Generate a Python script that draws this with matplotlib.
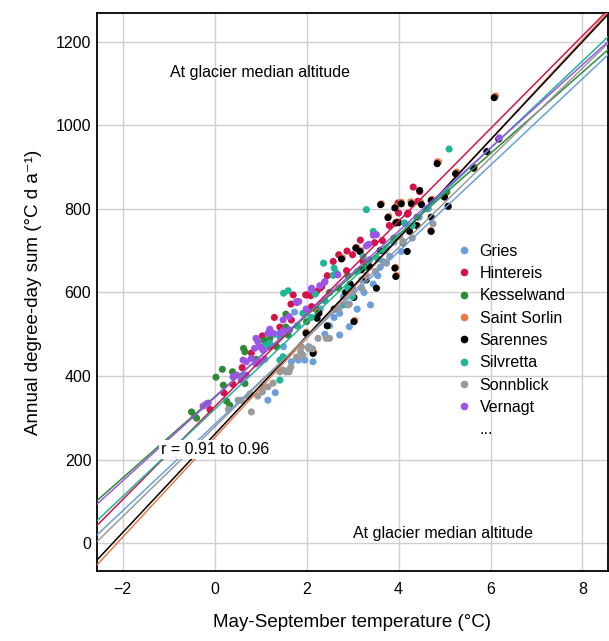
import numpy as np
import matplotlib.pyplot as plt
from matplotlib.lines import Line2D

plt.rcParams['font.family'] = ['Liberation Sans', 'DejaVu Sans']

names = ["Gries", "Hintereis", "Kesselwand", "Saint Sorlin", "Sarennes",
         "Silvretta", "Sonnblick", "Vernagt"]
colors = ["#6a9fdc", "#d5134a", "#2f8a35", "#e8794a", "#000000",
          "#1fb597", "#9a9a9a", "#9d55e8"]

# regression lines per glacier: (slope, intercept)
slopes = [103.4, 111.0, 97.1, 119.0, 117.5, 104.2, 107.3, 99.6]
intercepts = [284, 326, 350, 252, 260, 320, 278, 348]

gries_t = [1.16, 1.32, 1.67, 1.82, 1.96, 2.14, 1.74, 2.72, 2.93, 2.72, 2.93, 3.39, 3.66, 3.74,
           3.81, 4.06, 5.08, 2.50, 2.60, 3.10, 3.25, 3.45, 3.55, 2.40, 2.30, 3.00, 3.60, 3.90,
           4.20, 4.45, 1.50, 2.05, 2.80, 3.20, 4.65]
gries_s = [342, 360, 434, 438, 438, 434, 553, 498, 518, 550, 572, 570, 674, 706,
           686, 698, 806, 520, 540, 560, 600, 620, 640, 500, 560, 610, 660, 720,
           760, 780, 470, 470, 590, 630, 800]

hint_t = [1.04, 1.42, 1.67, 1.66, 1.79, 1.71, 1.98, 2.09, 2.22, 2.29, 2.11, 2.00, 2.33, 2.58,
          2.87, 2.88, 3.17, 3.48, 3.65, 3.23, 3.99, 4.19, 4.21, 4.32, 4.42, 4.46, 4.85, 0.40,
          0.60, 0.80, 1.20, 1.30, 2.45, 2.70, 3.00, 3.80, 4.00, 0.20, -0.10]
hint_s = [496, 517, 534, 572, 576, 594, 594, 592, 602, 610, 566, 594, 614, 674,
          652, 699, 725, 719, 724, 674, 814, 787, 790, 852, 818, 841, 912, 380,
          420, 455, 470, 540, 640, 690, 690, 760, 790, 360, 320]

kess_t = [-0.50, -0.43, -0.39, 0.03, 0.17, 0.39, 0.19, 0.26, 0.33, 0.63, 0.66, 0.66, 1.07, 1.20,
          1.55, 1.55, 1.60, 4.10, 2.20, 2.50, 2.90, 3.30, 3.70, 3.90, 4.40, 5.05, 0.90, 1.35,
          2.00, 2.70, 1.80]
kess_s = [314, 304, 299, 397, 416, 410, 378, 340, 330, 466, 458, 382, 485, 490,
          548, 517, 498, 718, 560, 600, 640, 660, 700, 730, 780, 840, 440, 470,
          530, 610, 520]

sorl_t = [6.11, 4.87, 5.27, 5.65, 3.63, 3.94, 4.06, 4.27, 4.48, 3.79, 3.96, 4.21, 4.70, 3.09,
          3.18, 2.78, 3.94, 3.96, 2.25, 2.16, 3.05, 1.99, 4.73]
sorl_s = [1070, 912, 888, 900, 812, 805, 816, 817, 816, 782, 769, 750, 748, 708,
          700, 683, 660, 641, 553, 457, 533, 505, 823]

sare_t = [6.08, 6.18, 5.92, 5.63, 4.84, 5.24, 5.00, 5.08, 4.71, 4.71, 4.46, 4.06, 4.28, 4.50,
          3.61, 3.92, 3.77, 3.94, 4.00, 4.24, 4.71, 4.19, 3.07, 3.16, 2.76, 3.92, 3.94, 3.19,
          3.37, 3.52, 3.03, 2.27, 2.23, 1.99, 2.14, 3.03, 2.60, 2.85, 3.30, 2.45, 2.95, 3.60,
          4.40]
sare_s = [1066, 967, 937, 897, 908, 884, 828, 806, 820, 780, 844, 812, 812, 810,
          810, 802, 779, 766, 767, 746, 746, 698, 706, 698, 680, 658, 638, 654,
          662, 610, 588, 550, 538, 502, 454, 530, 560, 600, 630, 520, 620, 700,
          760]

silv_t = [5.10, 3.30, 3.45, 3.48, 2.37, 2.60, 2.65, 2.58, 1.50, 1.60, 2.19, 1.92, 1.42, 1.09,
          1.20, 1.42, 1.49, 1.42, 3.23, 4.13, 2.90, 3.10, 2.40, 2.80, 3.70, 4.30, 0.60, 0.90,
          1.80, 2.10, 3.00, 3.55, 4.60, 1.30]
silv_s = [943, 798, 746, 740, 670, 658, 646, 641, 598, 604, 596, 550, 494, 472,
          478, 438, 446, 390, 686, 766, 610, 650, 580, 570, 700, 760, 400, 430,
          520, 540, 590, 680, 800, 500]

sonn_t = [0.51, 0.58, 0.73, 0.77, 0.80, 1.05, 0.94, 1.04, 1.16, 1.27, 1.42, 1.49, 1.55, 1.63,
          1.66, 1.62, 1.78, 1.92, 1.87, 2.04, 2.13, 2.25, 2.43, 2.50, 3.74, 4.03, 4.10, 4.75,
          2.70, 3.00, 3.30, 3.50, 2.90, 3.20, 4.30, 0.30, 1.89]
sonn_s = [342, 342, 350, 357, 314, 372, 352, 362, 374, 383, 410, 414, 410, 416,
          421, 410, 445, 450, 458, 466, 465, 490, 490, 490, 670, 734, 722, 764,
          560, 600, 640, 650, 570, 610, 730, 320, 470]

vern_t = [-0.25, -0.18, -0.14, 0.40, 0.48, 0.58, 0.69, 0.62, 0.69, 0.80, 0.90, 0.98, 1.09, 0.90,
          0.94, 0.98, 0.87, 1.05, 1.20, 1.16, 1.27, 1.42, 1.49, 1.63, 1.49, 1.62, 1.83, 1.99,
          1.78, 2.11, 2.11, 2.29, 2.39, 2.40, 2.68, 3.30, 3.35, 3.45, 3.52, 3.37, 6.19]
vern_s = [328, 333, 335, 398, 402, 390, 402, 438, 434, 442, 429, 434, 440, 490,
          482, 470, 466, 462, 512, 502, 502, 502, 508, 510, 534, 542, 578, 560,
          578, 606, 610, 616, 624, 626, 642, 711, 715, 737, 738, 678, 970]

temps = [gries_t, hint_t, kess_t, sorl_t, sare_t, silv_t, sonn_t, vern_t]
sums = [gries_s, hint_s, kess_s, sorl_s, sare_s, silv_s, sonn_s, vern_s]

fig = plt.figure(figsize=(6.09, 6.41), dpi=100)
ax = fig.add_axes([0.159, 0.109, 0.839, 0.871])

for t, s, c in zip(temps, sums, colors):
    ax.scatter(t, s, s=26, color=c, edgecolors='none', zorder=3)

xx = np.array([-3.0, 9.0])
for k, b, c in zip(slopes, intercepts, colors):
    ax.plot(xx, k * xx + b, color=c, lw=1.1, zorder=4)

ax.set_xlim(-2.56, 8.55)
ax.set_ylim(-67, 1269)
ax.set_xticks([-2, 0, 2, 4, 6, 8])
ax.set_yticks([0, 200, 400, 600, 800, 1000, 1200])
ax.grid(True, color='#cfcfcf', lw=1)
ax.set_axisbelow(True)
ax.tick_params(length=0, labelsize=11.5)
ax.tick_params(axis='x', pad=8)
ax.tick_params(axis='y', pad=4)
for sp in ax.spines.values():
    sp.set_linewidth(1.3)

ax.set_xlabel("May-September temperature (°C)", fontsize=13.5, labelpad=12)
ax.set_ylabel("Annual degree-day sum (°C d a⁻¹)", fontsize=13.5, labelpad=10,
              family=['Liberation Sans', 'DejaVu Sans'])

ax.text(-0.97, 1125, "At glacier median altitude", fontsize=11.5, va='center')
ax.text(3.0, 24, "At glacier median altitude", fontsize=11.5, va='center')
ax.text(-1.17, 225, "r = 0.91 to 0.96", fontsize=11.5, va='center', zorder=6,
        bbox=dict(facecolor='white', edgecolor='none', pad=1.5))

handles = [Line2D([], [], ls='none', marker='o', ms=4.5, color=c) for c in colors]
handles.append(Line2D([], [], ls='none', marker=''))
leg = ax.legend(handles, names + ["..."], loc='upper left',
                bbox_to_anchor=(0.69, 0.598), frameon=False, fontsize=11.5,
                handletextpad=0.5, labelspacing=0.46, handlelength=1.0,
                borderaxespad=0)
leg.set_zorder(7)

fig.savefig("out.png", dpi=100)
